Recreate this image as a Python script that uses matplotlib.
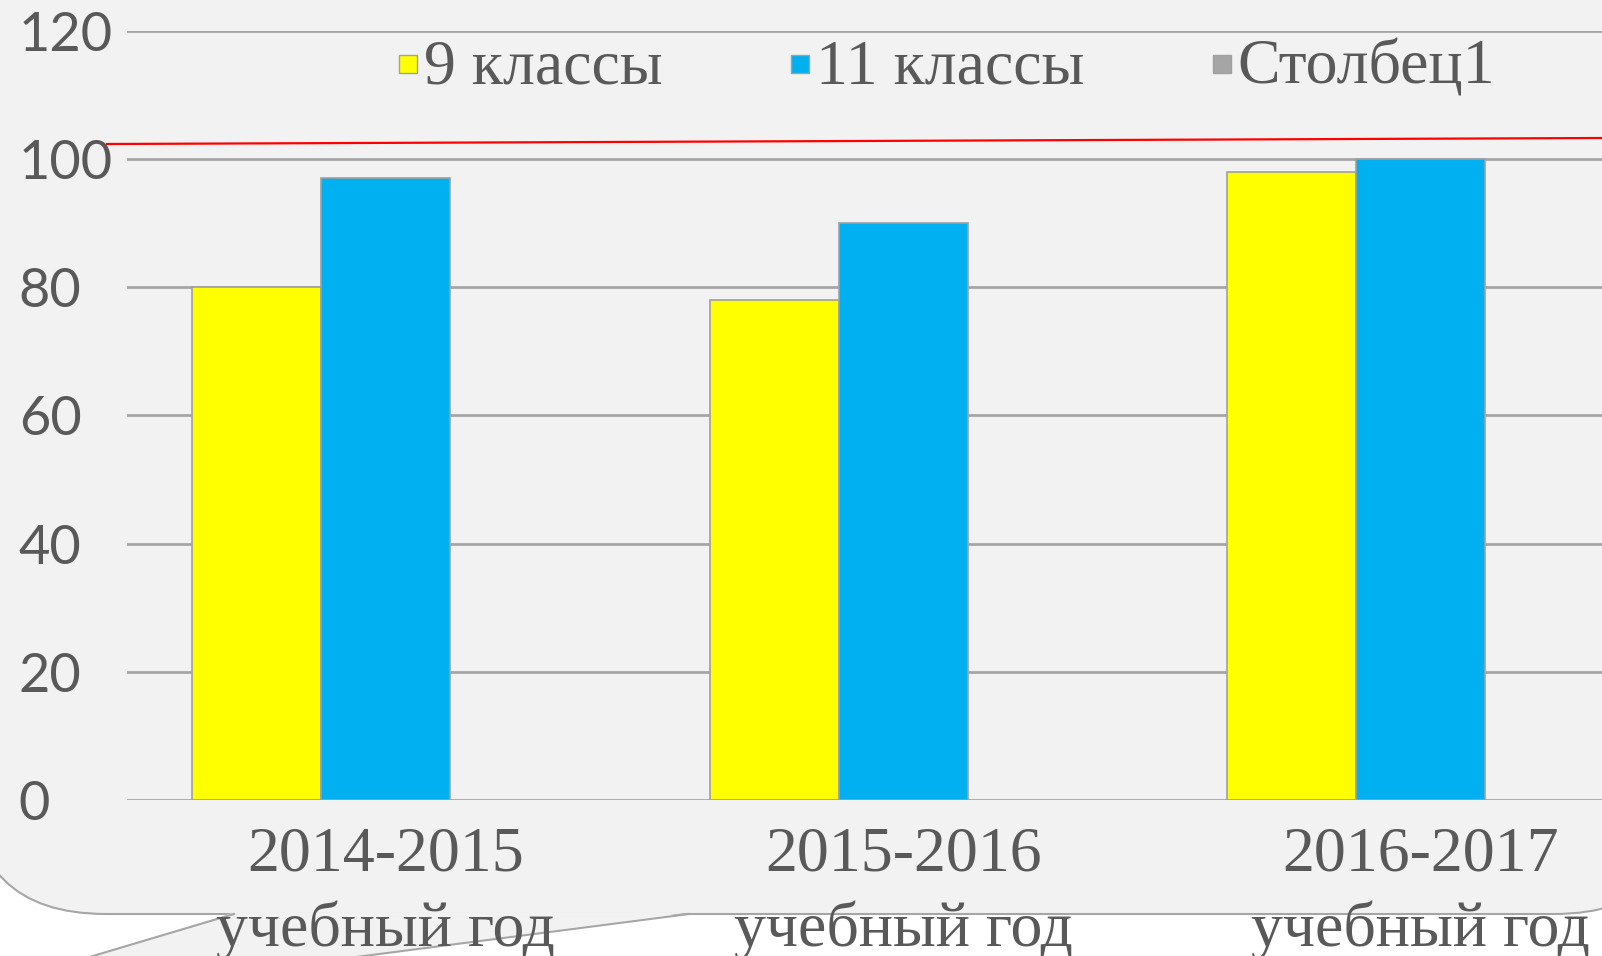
import numpy as np
import matplotlib
matplotlib.use("Agg")
import matplotlib.pyplot as plt
from matplotlib.patches import FancyBboxPatch, Polygon
from matplotlib.lines import Line2D
from matplotlib.transforms import IdentityTransform

# ---- data ----
categories = ["2014-2015\nучебный год", "2015-2016\nучебный год", "2016-2017\nучебный год"]
series_names = ["9 классы", "11 классы", "Столбец1"]
grade9 = [80, 78, 98]
grade11 = [97, 90, 100]
column1 = [np.nan, np.nan, np.nan]
yticks = [0, 20, 40, 60, 80, 100, 120]

colors = ["#ffff00", "#00b0f0", "#a5a5a5"]
text_col = "#595959"
grid_col = "#a6a6a6"

W, H = 1602, 956
fig = plt.figure(figsize=(W / 100, H / 100), dpi=100, facecolor="white")

def img(x, y):
    # image pixel coords (top-left origin) -> display coords
    return (x, H - y)

# ---- callout background shape ----
left, top, right, bottom, r = -30, -42, 1690, 914, 136
box = FancyBboxPatch(img(left, bottom), right - left, bottom - top,
                     boxstyle=f"round,pad=0,rounding_size={r}",
                     transform=IdentityTransform(), facecolor="#f2f2f2",
                     edgecolor=grid_col, linewidth=1.5, zorder=-3)
fig.patches.append(box)
tail = Polygon([img(234, 912.5), img(689, 912.5), img(23, 1000), img(-55, 1000)],
               closed=True, transform=IdentityTransform(), facecolor="#f2f2f2",
               edgecolor="none", zorder=-2)
fig.patches.append(tail)
for (x0, y0, x1, y1) in [(234, 914, -55, 1000), (689, 914, 23, 1000)]:
    fig.lines.append(Line2D([img(x0, y0)[0], img(x1, y1)[0]],
                            [img(x0, y0)[1], img(x1, y1)[1]],
                            transform=IdentityTransform(), color=grid_col,
                            linewidth=1.5, zorder=-1))

# ---- axes ----
ax_left, ax_right = 127, 127 + 3 * 517.5
y0_px, y120_px = 800, 30.6
ax = fig.add_axes([ax_left / W, (H - y0_px) / H, (ax_right - ax_left) / W,
                   (y0_px - y120_px) / H])
ax.set_facecolor("none")
ax.set_xlim(-0.5, 2.5)
ax.set_ylim(0, 120)

x = np.arange(len(categories))
w = 0.249
for i, (vals, c) in enumerate(zip([grade9, grade11, column1], colors)):
    ax.bar(x + (i - 1) * w, vals, width=w, color=c, edgecolor="#a0a0a0",
           linewidth=1.2, zorder=3)

ax.set_yticks(yticks)
ax.yaxis.grid(True, color=grid_col, linewidth=2.0, zorder=0)
ax.set_axisbelow(True)
for s in ax.spines.values():
    s.set_visible(False)

ax.set_xticks(x)
ax.set_xticklabels(categories, fontfamily="Liberation Serif", fontsize=46,
                   color=text_col, linespacing=1.36)
ax.tick_params(axis="x", length=0, pad=19)
ax.tick_params(axis="y", length=0, pad=78)
ax.set_yticklabels([str(t) for t in yticks], fontfamily="Lato", fontsize=39,
                   color=text_col, ha="left")

# ---- legend ----
handles = [Line2D([], [], marker="s", linestyle="none", markersize=12.5,
                  markerfacecolor=c, markeredgecolor="#a0a0a0", markeredgewidth=1.0)
           for c in colors]
fig.legend(handles, series_names, loc="center", ncol=3,
           bbox_to_anchor=(947 / W, 1 - 68 / H), frameon=False,
           prop={"family": "Liberation Serif", "size": 46},
           labelcolor=text_col, handlelength=0.3, handleheight=0.3,
           handletextpad=0.1, columnspacing=2.0)

# ---- red reference line ----
fig.lines.append(Line2D([107, 1602], [H - 144, H - 138], transform=IdentityTransform(),
                        color="red", linewidth=1.6, zorder=10))

fig.savefig("out.png", dpi=100, facecolor="white")
